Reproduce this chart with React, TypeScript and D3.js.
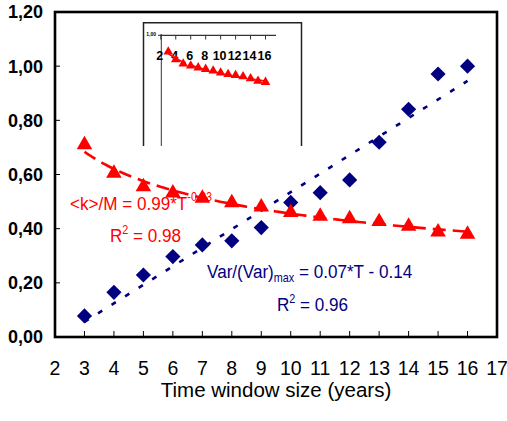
import React from "react";
import * as d3 from "d3";

const windowSizes = [3, 4, 5, 6, 7, 8, 9, 10, 11, 12, 13, 14, 15, 16];
const varRatio = [0.078, 0.165, 0.229, 0.297, 0.34, 0.355, 0.404, 0.497, 0.533, 0.58, 0.719, 0.841, 0.971, 1.0];
const kOverM = [0.71, 0.605, 0.555, 0.532, 0.512, 0.496, 0.48, 0.46, 0.446, 0.437, 0.426, 0.409, 0.388, 0.379];
const xTicks = d3.range(2, 18);
const yTicks = [0, 0.2, 0.4, 0.6, 0.8, 1.0, 1.2];
const insetXTicks = [2, 4, 6, 8, 10, 12, 14, 16];

const W = 507;
const H = 421;

function linFit(xs: number[], ys: number[]) {
  const mx = d3.mean(xs)!;
  const my = d3.mean(ys)!;
  let num = 0, den = 0;
  xs.forEach((x, i) => {
    num += (x - mx) * (ys[i] - my);
    den += (x - mx) * (x - mx);
  });
  const b = num / den;
  return { a: my - b * mx, b };
}

export default function App() {
  const x = d3.scaleLinear().domain([2, 17]).range([55, 497]);
  const y = d3.scaleLinear().domain([0, 1.2]).range([337, 12]);

  const lf = linFit(windowSizes, varRatio);
  const linLine = d3
    .line<number>()
    .x((t) => x(t))
    .y((t) => y(lf.a + lf.b * t));
  const pf = linFit(windowSizes.map(Math.log), kOverM.map(Math.log));
  const powFn = (t: number) => Math.exp(pf.a) * Math.pow(t, pf.b);
  const fineT = d3.range(3, 16.01, 0.1);
  const powLine = d3
    .line<number>()
    .x((t) => x(t))
    .y((t) => y(powFn(t)));

  const diamond = d3.symbol(d3.symbolSquare, 115)()!;
  const tri = d3.symbol(d3.symbolTriangle, 105)()!;
  const triSmall = d3.symbol(d3.symbolTriangle, 40)()!;

  const ix = d3.scaleLinear().domain([2, 16]).range([160.8, 265.5]);
  const iy = d3.scaleLog().domain([0.1, 1]).range([146.5, 35.3]);
  const insetLine = d3
    .line<number>()
    .x((t) => ix(t))
    .y((t) => iy(powFn(t)));

  const navy = "#000080";
  const red = "#FF0000";
  const font = "Liberation Sans, Arial, sans-serif";

  return (
    <svg width={W} height={H} style={{ position: "absolute", left: 0, top: 0, background: "#fff" }} fontFamily={font}>
      {yTicks.map((v) => (
        <text key={v} x={43} y={y(v)} dy="0.36em" textAnchor="end" fontSize={18} fontWeight="bold" fill="#000">
          {v.toFixed(2).replace(".", ",")}
        </text>
      ))}
      {xTicks.map((t) => (
        <text key={t} x={x(t)} y={375} textAnchor="middle" fontSize={19.5} fill="#000">
          {t}
        </text>
      ))}
      <text x={276} y={397} textAnchor="middle" fontSize={20.5} fill="#000">
        Time window size (years)
      </text>

      {yTicks.map((v) => (
        <line key={"yt" + v} x1={55} x2={60} y1={y(v)} y2={y(v)} stroke="#000" strokeWidth={1} />
      ))}
      {xTicks.map((t) => (
        <line key={"xt" + t} x1={x(t)} x2={x(t)} y1={337} y2={331} stroke="#000" strokeWidth={1} />
      ))}

      <g>
        <path d="M143.5,146 V22.8 H301.5 V146" fill="none" stroke="#222" strokeWidth={1.5} />
        <line x1={161.3} x2={161.3} y1={34} y2={146} stroke="#333" strokeWidth={1} />
        <line x1={160} x2={276} y1={35.3} y2={35.3} stroke="#333" strokeWidth={1.2} />
        <line x1={158} x2={161.3} y1={35.3} y2={35.3} stroke="#333" strokeWidth={1} />
        {insetXTicks.map((t) => (
          <line key={"it" + t} x1={ix(t)} x2={ix(t)} y1={35.3} y2={39.5} stroke="#333" strokeWidth={1} />
        ))}
        <text x={156} y={35.8} textAnchor="end" fontSize={5} fontWeight="bold" fill="#000">
          1,00
        </text>
        {insetXTicks.map((t) => (
          <text key={"il" + t} x={ix(t) - 1} y={59.5} textAnchor="middle" fontSize={12.5} fontWeight="bold" fill="#000">
            {t}
          </text>
        ))}
        <path d={insetLine(fineT) || ""} fill="none" stroke={red} strokeWidth={1.5} strokeDasharray="8,4" />
        {windowSizes.map((t, i) => (
          <path key={"is" + t} d={triSmall} transform={`translate(${ix(t)},${iy(kOverM[i])})`} fill={red} />
        ))}
      </g>

      <g fill={red} fontSize={19}>
        <text transform="translate(70,210) scale(0.9,1)">
          {"<k>/M = 0.99*T"}
          <tspan fontSize={12} dy={-9}>{"-0.33"}</tspan>
        </text>
        <text transform="translate(110,241.5) scale(0.9,1)">
          R<tspan fontSize={12} dy={-8}>2</tspan>
          <tspan dy={8}>{" = 0.98"}</tspan>
        </text>
      </g>
      <g fill={navy} fontSize={19}>
        <text transform="translate(207,278) scale(0.9,1)">
          {"Var/(Var)"}
          <tspan fontSize={12} dy={4}>max</tspan>
          <tspan dy={-4}>{" = 0.07*T - 0.14"}</tspan>
        </text>
        <text transform="translate(277,310.5) scale(0.9,1)">
          R<tspan fontSize={12} dy={-8}>2</tspan>
          <tspan dy={8}>{" = 0.96"}</tspan>
        </text>
      </g>

      <path d={linLine([3, 16]) || ""} fill="none" stroke={navy} strokeWidth={2.6} strokeDasharray="5,11" />
      {windowSizes.map((t, i) => (
        <path key={"d" + t} d={diamond} transform={`translate(${x(t)},${y(varRatio[i])}) rotate(45)`} fill={navy} />
      ))}
      <path d={powLine(fineT) || ""} fill="none" stroke={red} strokeWidth={2.6} strokeDasharray="13,7" />
      {windowSizes.map((t, i) => (
        <path key={"t" + t} d={tri} transform={`translate(${x(t)},${y(kOverM[i])})`} fill={red} />
      ))}

      <rect x={55} y={12} width={442} height={325} fill="none" stroke="#000" strokeWidth={2.6} />
    </svg>
  );
}
